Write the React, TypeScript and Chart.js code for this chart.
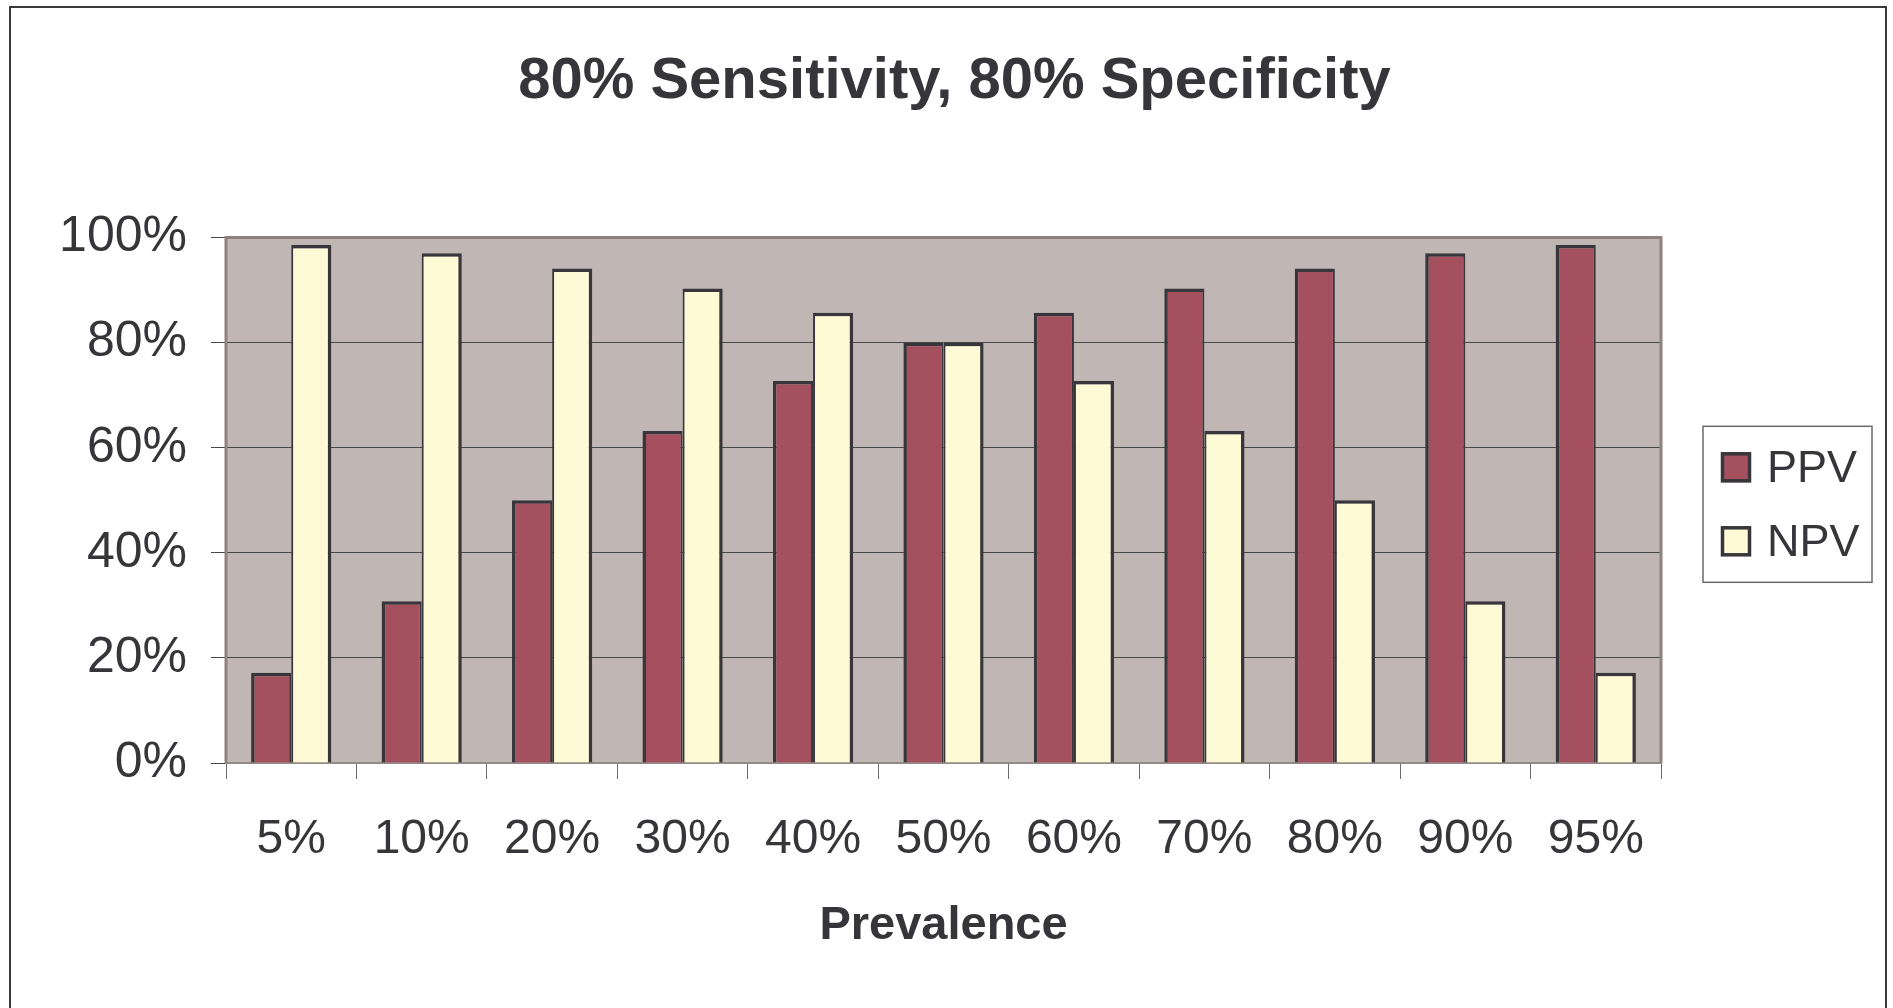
import React, { useEffect, useRef } from "react";
import { Chart, registerables } from "chart.js";

Chart.register(...registerables);

const TITLE = "80% Sensitivity, 80% Specificity";
const X_TITLE = "Prevalence";
const categories = ["5%", "10%", "20%", "30%", "40%", "50%", "60%", "70%", "80%", "90%", "95%"];
const ppvValues = [17.2, 30.8, 50.0, 63.2, 72.7, 80.0, 85.7, 90.3, 94.1, 97.0, 98.6];
const npvValues = [98.6, 97.0, 94.1, 90.3, 85.7, 80.0, 72.7, 63.2, 50.0, 30.8, 17.2];
const seriesLabels = ["PPV", "NPV"];
const seriesColors = ["#A5505F", "#FFFAD6"];
const yMin = 0;
const yMax = 100;
const yStep = 20;

const FONT = "'Liberation Sans', Arial, Helvetica, sans-serif";
const TEXT = "#36353a";

const decorPlugin = {
  id: "decor",
  beforeDraw(chart: any) {
    const ctx = chart.ctx;
    const a = chart.chartArea;
    ctx.save();
    ctx.fillStyle = "#ffffff";
    ctx.fillRect(0, 0, chart.width, chart.height);
    // outer frame
    ctx.strokeStyle = "#3a3a3a";
    ctx.lineWidth = 2;
    ctx.beginPath();
    ctx.moveTo(10, chart.height + 5);
    ctx.lineTo(10, 7);
    ctx.lineTo(1886, 7);
    ctx.lineTo(1886, chart.height + 5);
    ctx.stroke();
    // plot background
    ctx.fillStyle = "#C0B7B4";
    ctx.fillRect(a.left, a.top, a.right - a.left, a.bottom - a.top);
    ctx.restore();
  },
  beforeDatasetsDraw(chart: any) {
    const ctx = chart.ctx;
    const a = chart.chartArea;
    ctx.save();
    ctx.strokeStyle = "#8E817F";
    ctx.lineWidth = 3;
    ctx.beginPath();
    ctx.moveTo(a.left, a.bottom);
    ctx.lineTo(a.left, a.top);
    ctx.lineTo(a.right, a.top);
    ctx.lineTo(a.right, a.bottom);
    ctx.stroke();
    ctx.restore();
  },
  afterDraw(chart: any) {
    const ctx = chart.ctx;
    const a = chart.chartArea;
    const boxW = 169;
    const boxH = 156;
    const boxX = a.right + 42;
    const boxY = (a.top + a.bottom) / 2 - boxH / 2 + 4;
    ctx.save();
    ctx.fillStyle = "#ffffff";
    ctx.fillRect(boxX, boxY, boxW, boxH);
    ctx.strokeStyle = "#6a6a6a";
    ctx.lineWidth = 1.5;
    ctx.strokeRect(boxX, boxY, boxW, boxH);
    const ds = chart.data.datasets;
    ds.forEach((d: any, i: number) => {
      const sq = 30;
      const sx = boxX + 18;
      const sy = boxY + 26 + i * 74;
      ctx.fillStyle = d.backgroundColor;
      ctx.fillRect(sx, sy, sq, sq);
      ctx.strokeStyle = "#38363B";
      ctx.lineWidth = 3.5;
      ctx.strokeRect(sx + 1.5, sy + 1.5, sq - 3, sq - 3);
      ctx.fillStyle = TEXT;
      ctx.font = `45px ${FONT}`;
      ctx.textBaseline = "middle";
      ctx.textAlign = "left";
      ctx.fillText(d.label, sx + sq + 16, sy + sq / 2 + 2);
    });
    ctx.restore();
  },
};

export default function App() {
  const canvasRef = useRef<HTMLCanvasElement | null>(null);

  useEffect(() => {
    const canvas = canvasRef.current;
    if (!canvas) return;
    const chart = new Chart(canvas, {
      type: "bar",
      data: {
        labels: categories,
        datasets: [
          {
            label: seriesLabels[0],
            data: ppvValues,
            backgroundColor: seriesColors[0],
            borderColor: "#38363B",
            borderWidth: { left: 3.5, right: 2, top: 3.5, bottom: 0 },
            borderSkipped: "start",
            barPercentage: 1,
            categoryPercentage: 0.615,
          },
          {
            label: seriesLabels[1],
            data: npvValues,
            backgroundColor: seriesColors[1],
            borderColor: "#38363B",
            borderWidth: { left: 2, right: 3.5, top: 3.5, bottom: 0 },
            borderSkipped: "start",
            barPercentage: 1,
            categoryPercentage: 0.615,
          },
        ],
      },
      options: {
        responsive: false,
        animation: false,
        devicePixelRatio: 1,
        layout: { padding: { left: 16, right: 0, top: 0, bottom: 0 } },
        plugins: {
          legend: { display: false },
          tooltip: { enabled: false },
          title: {
            display: true,
            text: TITLE,
            color: TEXT,
            font: { family: FONT, size: 58, weight: "bold", lineHeight: 1.2 },
            padding: { top: 47, bottom: 121 },
          },
        },
        scales: {
          x: {
            offset: true,
            grid: {
              offset: true,
              drawOnChartArea: false,
              drawTicks: true,
              tickLength: 16,
              color: "#6b6b6b",
              lineWidth: 1,
            },
            border: { display: true, color: "#958A88", width: 2 },
            ticks: {
              color: TEXT,
              font: { family: FONT, size: 48 },
              padding: 32,
              maxRotation: 0,
              autoSkip: false,
            },
            title: {
              display: true,
              text: X_TITLE,
              color: TEXT,
              font: { family: FONT, size: 47, weight: "bold", lineHeight: 1.2 },
              padding: { top: 0, bottom: 54 },
            },
            afterFit(scale: any) {
              scale.height = 245;
            },
          },
          y: {
            min: yMin,
            max: yMax,
            grid: {
              color: "#474747",
              lineWidth: 1,
              tickLength: 15,
              drawTicks: true,
            },
            border: { display: false },
            ticks: {
              stepSize: yStep,
              color: TEXT,
              font: { family: FONT, size: 50 },
              padding: 24,
              callback: (v: any) => `${v}%`,
            },
            afterFit(scale: any) {
              scale.width = 210;
            },
          },
          yRight: {
            position: "right",
            display: true,
            grid: { display: false, drawTicks: false },
            border: { display: false },
            ticks: { display: false },
            afterFit(scale: any) {
              scale.width = 232;
            },
          },
        },
      },
      plugins: [decorPlugin],
    });
    return () => chart.destroy();
  }, []);

  return (
    <div style={{ position: "fixed", left: 0, top: 0, width: 1893, height: 1008, background: "#fff" }}>
      <canvas ref={canvasRef} width={1893} height={1008} style={{ display: "block", width: 1893, height: 1008 }} />
    </div>
  );
}
